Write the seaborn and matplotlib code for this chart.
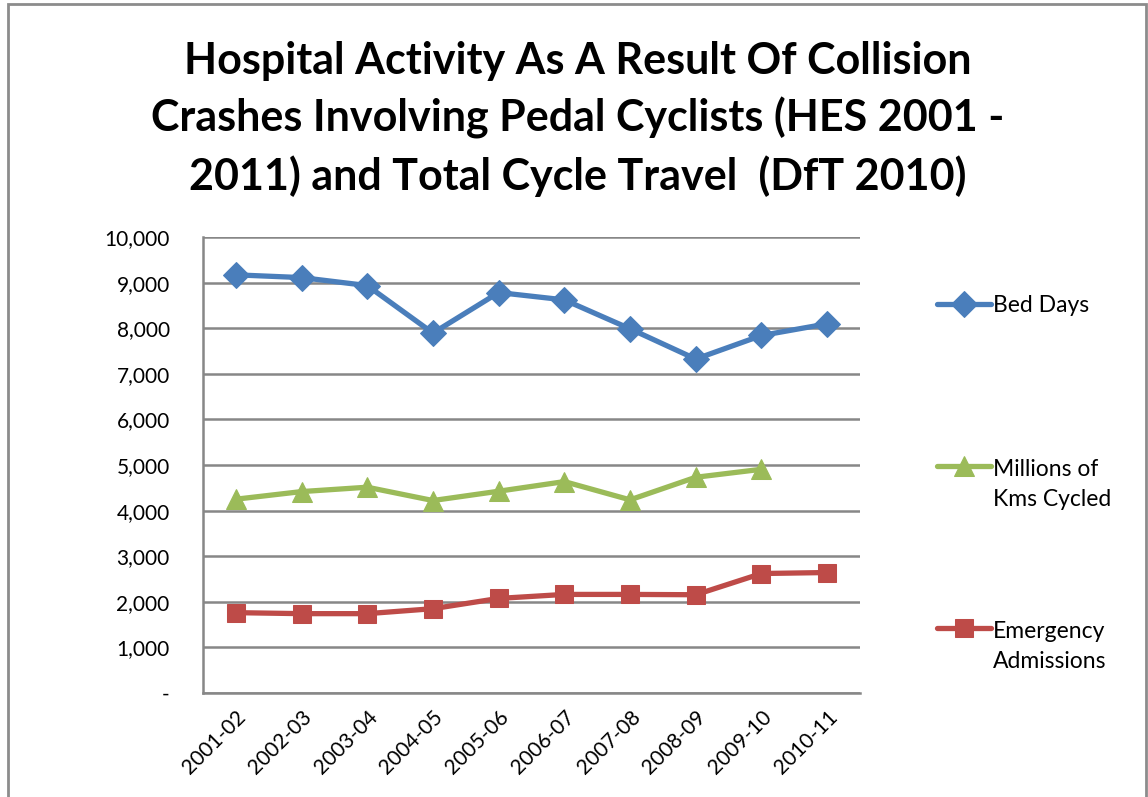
import numpy as np
import pandas as pd
import matplotlib.pyplot as plt
import seaborn as sns
from matplotlib.patches import Rectangle
from matplotlib.ticker import FuncFormatter

years = ['2001-02', '2002-03', '2003-04', '2004-05', '2005-06',
         '2006-07', '2007-08', '2008-09', '2009-10', '2010-11']
bed_days = [9170, 9110, 8935, 7893, 8782, 8621, 7987, 7324, 7840, 8096]
kms_cycled = [4250, 4417, 4513, 4221, 4425, 4636, 4236, 4731, 4906, np.nan]
emergency = [1762, 1740, 1740, 1849, 2074, 2162, 2162, 2155, 2620, 2642]

series_names = ['Bed Days', 'Millions of\nKms Cycled', 'Emergency\nAdmissions']
colors = ['#4A7EBB', '#9BBB59', '#BE4B48']
markers = ['D', '^', 's']
msizes = [13, 14, 13]
legend_y = [306, 488, 650]   # pixel rows of the legend entries

sns.set_style('white')
plt.rcParams['font.family'] = ['Lato', 'DejaVu Sans']
plt.rcParams['text.color'] = 'black'
plt.rcParams['xtick.color'] = 'black'
plt.rcParams['ytick.color'] = 'black'

df = pd.DataFrame({'year': years, 'Bed Days': bed_days,
                   'Millions of\nKms Cycled': kms_cycled,
                   'Emergency\nAdmissions': emergency})

W, H = 1148, 797
fig = plt.figure(figsize=(W / 100, H / 100), dpi=100)
fig.patches.append(Rectangle((7.5 / W, -0.05), (1146 - 7.5) / W, 1.05 - 4.5 / H,
                             transform=fig.transFigure, fill=False,
                             edgecolor='#8c8c8c', linewidth=2))
ax = fig.add_axes([203 / W, 1 - 693 / H, 657 / W, 456 / H])

for name, c, m, ms in zip(series_names, colors, markers, msizes):
    sub = df[['year', name]].dropna()
    sns.lineplot(data=sub, x='year', y=name, ax=ax, color=c, linewidth=3.8,
                 marker=m, markersize=ms, markeredgecolor=c, label=name, sort=False)

ax.set_xlim(-0.5, 9.5)
ax.set_ylim(0, 10000)
ax.set_yticks(np.arange(0, 10001, 1000))
ax.yaxis.set_major_formatter(FuncFormatter(lambda v, p: '-' if v == 0 else f'{int(v):,}'))
ax.grid(axis='y', color='#878787', linewidth=1.8)
ax.set_axisbelow(True)
for s in ['top', 'right']:
    ax.spines[s].set_visible(False)
for s in ['left', 'bottom']:
    ax.spines[s].set_color('#878787')
    ax.spines[s].set_linewidth(1.8)
ax.tick_params(axis='y', labelsize=15, pad=24, length=0)
ax.tick_params(axis='x', labelsize=15, length=0, pad=10)
plt.setp(ax.get_xticklabels(), rotation=45, ha='right', rotation_mode='anchor')
ax.set_xlabel('')
ax.set_ylabel('')

handles, labels = ax.get_legend_handles_labels()
ax.get_legend().remove()
hh = [0.7, 6.2, 6.2]
for i, (h, l) in enumerate(zip(handles, labels)):
    leg = ax.legend(handles=[h], labels=[l], loc='center left',
                    bbox_to_anchor=(937 / W, 1 - legend_y[i] / H),
                    bbox_transform=fig.transFigure, frameon=False,
                    fontsize=16.5, handlelength=2.35, handletextpad=0.1,
                    handleheight=hh[i], borderpad=0, borderaxespad=0)
    for t in leg.get_texts():
        t.set_linespacing(1.55)
    if i < len(handles) - 1:
        ax.add_artist(leg)

fig.text(0.503, 1 - 119 / H,
         'Hospital Activity As A Result Of Collision\n'
         'Crashes Involving Pedal Cyclists (HES 2001 -\n'
         '2011) and Total Cycle Travel  (DfT 2010)',
         ha='center', va='center', fontsize=31, fontweight='bold', linespacing=1.47)

fig.savefig('out.png', dpi=100)
